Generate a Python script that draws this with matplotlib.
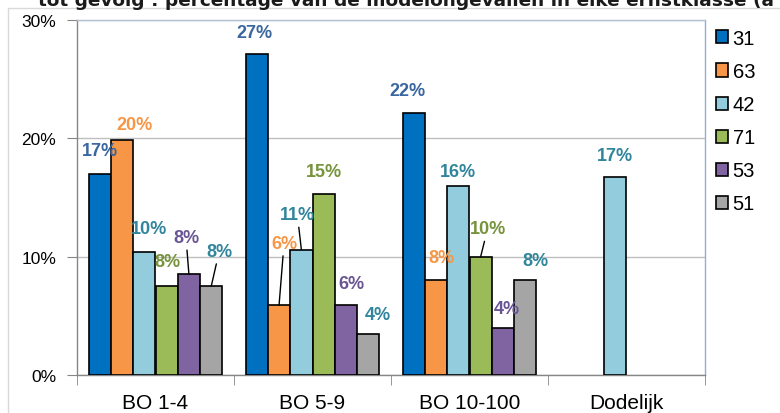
"""
Grouped bar chart: share of model accidents per severity class (BO 1-4, BO 5-9, BO 10-100, Dodelijk).
"""
import matplotlib
matplotlib.use("Agg")
import matplotlib.pyplot as plt
from matplotlib.patches import Rectangle
import numpy as np

# ---- data ----
categories = ["BO 1-4", "BO 5-9", "BO 10-100", "Dodelijk"]
series = ["31", "63", "42", "71", "53", "51"]
v31 = [17.0, 27.1, 22.1, np.nan]
v63 = [19.9, 5.9, 8.0, np.nan]
v42 = [10.4, 10.6, 16.0, 16.7]
v71 = [7.5, 15.3, 10.0, np.nan]
v53 = [8.5, 5.9, 4.0, np.nan]
v51 = [7.5, 3.5, 8.0, np.nan]
label_txt = [
    ["17%", "27%", "22%", ""],
    ["20%", "6%", "8%", ""],
    ["10%", "11%", "16%", "17%"],
    ["8%", "15%", "10%", ""],
    ["8%", "6%", "4%", ""],
    ["8%", "4%", "8%", ""],
]
yticks = [0, 10, 20, 30]
title = "tot gevolg : percentage van de modelongevallen in elke ernstklasse (a"

# ---- style ----
FILL = ["#0070C0", "#F79646", "#93CDDD", "#9BBB59", "#8064A2", "#A5A5A5"]
TXT = ["#3A67A0", "#F79646", "#31859C", "#77933C", "#6A5694", "#31859C"]
# label offsets from bar top centre (pixels), and whether a leader line is drawn
OFFS = [
    [(0, 23, 0), (-2, 22, 0), (-6, 23, 0), None],
    [(12, 15, 0), (5, 62, 1), (5, 23, 0), None],
    [(5, 23, 0), (-4, 35, 1), (0, 14, 0), (0, 22, 0)],
    [(1, 25, 0), (0, 22, 0), (7, 28, 1), None],
    [(-3, 37, 1), (5, 22, 0), (4, 19, 0), None],
    [(8, 35, 1), (10, 19, 0), (10, 20, 0), None],
]
SANS = ["Liberation Sans", "DejaVu Sans"]
GRAY = "#868686"

values = [v31, v63, v42, v71, v53, v51]

fig = plt.figure(figsize=(7.8, 4.14), dpi=100)
ax = fig.add_axes([77 / 780, 1 - 376 / 414, 628 / 780, 355 / 414])

# outer chart frame (only left/top edges visible)
fig.patches.append(Rectangle((8 / 780, -0.1), 1.2, 1.1 - 9 / 414, transform=fig.transFigure,
                             fill=False, edgecolor="#D9D9D9", lw=1.0))

x = np.arange(len(categories)) + 0.5
w = 0.142
for j, (name, vals) in enumerate(zip(series, values)):
    xs = x + (j - 2.5) * w
    ax.bar(xs, vals, w, color=FILL[j], edgecolor="black", linewidth=1.2, label=name, zorder=3)
    for i, v in enumerate(vals):
        if np.isnan(v) or OFFS[j][i] is None:
            continue
        dx, dy, lead = OFFS[j][i]
        ax.annotate(label_txt[j][i], xy=(xs[i], v), xytext=(dx, dy), textcoords="offset pixels",
                    ha="center", va="center", color=TXT[j], fontsize=13, fontweight="bold",
                    family=SANS, zorder=5,
                    arrowprops=dict(arrowstyle="-", color="black", lw=1.0, shrinkA=1, shrinkB=0)
                    if lead else None)

ax.set_xlim(0, len(categories))
ax.set_ylim(0, 30)
ax.set_yticks(yticks)
ax.set_yticklabels([f"{t}%" for t in yticks], family=SANS, fontsize=12.5)
ax.set_xticks(x)
ax.set_xticklabels(categories, family=SANS, fontsize=15)
ax.set_xticks(np.arange(len(categories) + 1), minor=True)
ax.tick_params(axis="x", which="major", length=0, pad=13)
ax.tick_params(axis="x", which="minor", length=7, color=GRAY, direction="out")
ax.tick_params(axis="y", length=7, color=GRAY, direction="out", pad=8)
ax.grid(axis="y", color="#BFBFBF", lw=1.0, zorder=0)
ax.set_axisbelow(True)

ax.spines["left"].set_color(GRAY)
ax.spines["bottom"].set_color(GRAY)
ax.spines["top"].set_color("#B4C0D4")
ax.spines["right"].set_color("#95ACD6")
for s in ax.spines.values():
    s.set_linewidth(1.0)

fig.legend(loc="upper left", bbox_to_anchor=(716 / 780, 1 - 30 / 414), frameon=False,
           prop={"family": SANS, "size": 14.5}, handlelength=0.62, handleheight=0.62,
           handletextpad=0.2, labelspacing=0.7, borderaxespad=0, borderpad=0)

fig.text(38 / 780, 1 - 6 / 414, title, fontsize=13.3, fontweight="bold",
         family="DejaVu Sans", va="baseline", ha="left", color="#1A1A1A")

fig.savefig("out.png", dpi=100)
